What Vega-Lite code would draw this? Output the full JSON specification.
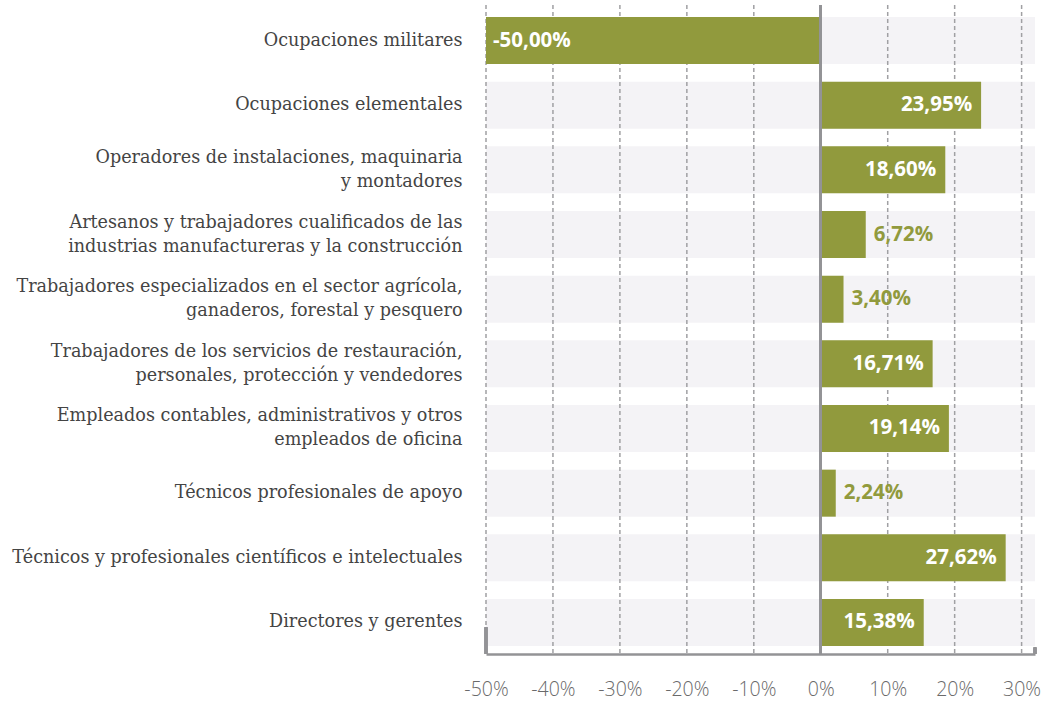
{
  "$schema": "https://vega.github.io/schema/vega-lite/v6.json",
  "autosize": "none",
  "width": 549,
  "height": 649,
  "padding": {"left": 486, "top": 5, "right": 8, "bottom": 47},
  "background": "white",
  "config": {
    "view": {"stroke": null},
    "locale": {"number": {"decimal": ",", "thousands": ".", "grouping": [3], "currency": ["", " €"], "minus": "-"}}
  },
  "data": {"values": [
    {"ocupacion": "Ocupaciones militares", "valor": -0.5},
    {"ocupacion": "Ocupaciones elementales", "valor": 0.2395},
    {"ocupacion": "Operadores de instalaciones, maquinaria\ny montadores", "valor": 0.186},
    {"ocupacion": "Artesanos y trabajadores cualificados de las\nindustrias manufactureras y  la construcción", "valor": 0.0672},
    {"ocupacion": "Trabajadores especializados en el sector agrícola,\nganaderos, forestal y pesquero", "valor": 0.034},
    {"ocupacion": "Trabajadores de los servicios de restauración,\npersonales, protección y vendedores", "valor": 0.1671},
    {"ocupacion": "Empleados contables, administrativos y otros\nempleados de oficina", "valor": 0.1914},
    {"ocupacion": "Técnicos profesionales de apoyo", "valor": 0.0224},
    {"ocupacion": "Técnicos y profesionales científicos e intelectuales", "valor": 0.2762},
    {"ocupacion": "Directores y gerentes", "valor": 0.1538}
  ]},
  "encoding": {
    "y": {
      "field": "ocupacion", "type": "nominal", "sort": null,
      "scale": {"paddingInner": 0.273, "paddingOuter": 0.155, "align": 0.6},
      "axis": {
        "title": null, "domain": false, "ticks": false, "grid": false,
        "labelExpr": "split(datum.label, '\\n')",
        "labelFont": "DejaVu Serif", "labelFontSize": 17.6, "labelColor": "#444444",
        "labelLineHeight": 24, "labelPadding": 24, "labelLimit": 485,
        "labelOffset": {"condition": {"test": "indexof(datum.value, '\\n') >= 0", "value": -12}, "value": 0}
      }
    }
  },
  "layer": [
    {
      "mark": {"type": "bar", "color": "#f4f3f6"},
      "encoding": {
        "x": {"datum": -0.5, "type": "quantitative",
          "scale": {"domain": [-0.5, 0.32], "nice": false, "zero": false},
          "axis": {
            "title": null, "values": [-0.5, -0.4, -0.3, -0.2, -0.1, 0, 0.1, 0.2, 0.3],
            "format": ".0%", "ticks": false, "grid": false,
            "domain": true, "domainColor": "#939396", "domainWidth": 2.5,
            "labelFont": "Open Sans", "labelFontSize": 19.5, "labelFontWeight": 300, "labelColor": "#6a6a6a",
            "labelPadding": 26, "labelFlush": false, "labelOverlap": false, "labelBound": false
          }
        },
        "x2": {"datum": 0.32}
      }
    },
    {
      "data": {"values": [{"g": -0.5}, {"g": -0.4}, {"g": -0.3}, {"g": -0.2}, {"g": -0.1}, {"g": 0.1}, {"g": 0.2}, {"g": 0.3}]},
      "mark": {"type": "rule", "color": "#a0a0a3", "strokeWidth": 1.5, "strokeDash": [4, 3]},
      "encoding": {"x": {"field": "g", "type": "quantitative"}, "y": null}
    },
    {
      "mark": {"type": "bar", "color": "#919a3d"},
      "encoding": {
        "x": {"field": "valor", "type": "quantitative"},
        "x2": {"datum": 0}
      }
    },
    {
      "mark": {"type": "rule", "color": "#939396", "strokeWidth": 2.5},
      "encoding": {"x": {"datum": 0, "type": "quantitative"}, "y": null}
    },
    {
      "mark": {"type": "rule", "color": "#939396", "strokeWidth": 2.5},
      "encoding": {
        "x": {"datum": -0.5, "type": "quantitative"},
        "y": {"datum": "Directores y gerentes", "type": "nominal", "bandPosition": 0.6},
        "y2": {"datum": "Directores y gerentes", "bandPosition": 1.17}
      }
    },
    {
      "mark": {"type": "rule", "color": "#939396", "strokeWidth": 2.5},
      "encoding": {
        "x": {"datum": 0.32, "type": "quantitative"},
        "y": {"datum": "Directores y gerentes", "type": "nominal", "bandPosition": 1.03},
        "y2": {"datum": "Directores y gerentes", "bandPosition": 1.17}
      }
    },
    {
      "transform": [{"filter": "datum.valor >= 0.1"}],
      "mark": {"type": "text", "align": "right", "baseline": "middle", "dx": -9, "font": "Open Sans", "fontSize": 20.5, "fontWeight": "bold", "color": "white"},
      "encoding": {
        "x": {"field": "valor", "type": "quantitative"},
        "text": {"field": "valor", "type": "quantitative", "format": ".2%"}
      }
    },
    {
      "transform": [{"filter": "datum.valor >= 0 && datum.valor < 0.1"}],
      "mark": {"type": "text", "align": "left", "baseline": "middle", "dx": 8, "font": "Open Sans", "fontSize": 20.5, "fontWeight": "bold", "color": "#919a3d"},
      "encoding": {
        "x": {"field": "valor", "type": "quantitative"},
        "text": {"field": "valor", "type": "quantitative", "format": ".2%"}
      }
    },
    {
      "transform": [{"filter": "datum.valor < 0"}],
      "mark": {"type": "text", "align": "left", "baseline": "middle", "dx": 7, "font": "Open Sans", "fontSize": 20.5, "fontWeight": "bold", "color": "white"},
      "encoding": {
        "x": {"field": "valor", "type": "quantitative"},
        "text": {"field": "valor", "type": "quantitative", "format": ".2%"}
      }
    }
  ]
}
